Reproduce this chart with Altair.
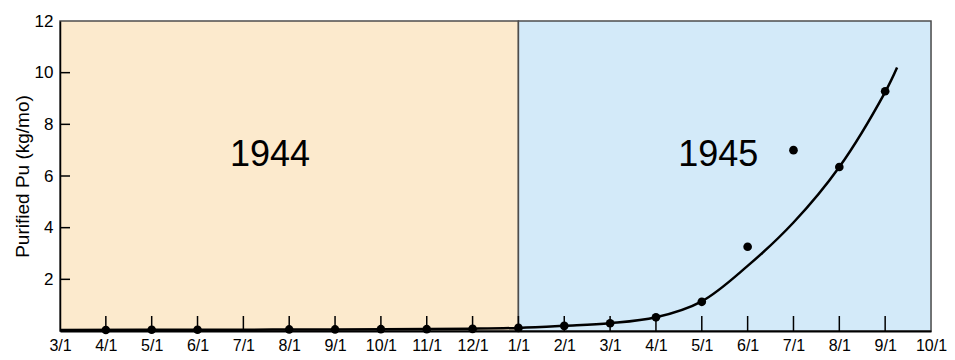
import altair as alt
import pandas as pd

FONT = "Liberation Sans"

# x positions are month indices counted from 3/1/1944
month_labels = ["3/1", "4/1", "5/1", "6/1", "7/1", "8/1", "9/1", "10/1", "11/1", "12/1",
                "1/1", "2/1", "3/1", "4/1", "5/1", "6/1", "7/1", "8/1", "9/1", "10/1"]

# observed monthly production points
point_month = [1, 2, 3, 5, 6, 7, 8, 9, 10, 11, 12, 13, 14, 15, 16, 17, 18]
point_value = [0.04, 0.05, 0.05, 0.06, 0.06, 0.07, 0.07, 0.08,
               0.12, 0.20, 0.30, 0.53, 1.13, 3.26, 7.00, 6.35, 9.28]

# fitted trend curve
curve_month = [0, 3, 6, 9, 10, 11, 12, 13, 14, 15, 16, 17, 18, 18.26]
curve_value = [0.04, 0.05, 0.06, 0.09, 0.12, 0.20, 0.30, 0.53, 1.15, 2.52, 4.20, 6.35, 9.25, 10.2]

# year bands
region_year = ["1944", "1945"]
region_start = [0, 10]
region_end = [10, 19]
region_color = ["#FCEACD", "#D3EAF9"]
label_month = [4.58, 14.36]
label_value = [6.83, 6.83]

y_min, y_max = 0, 12
xtick_months = list(range(1, 19))
ytick_values = [2, 4, 6, 8, 10]
ylabel_values = [2, 4, 6, 8, 10, 12]

points_df = pd.DataFrame({"m": point_month, "v": point_value})
curve_df = pd.DataFrame({"m": curve_month, "v": curve_value})
region_df = pd.DataFrame({"year": region_year, "start": region_start, "end": region_end,
                          "lo": [y_min] * 2, "hi": [y_max] * 2,
                          "lx": label_month, "ly": label_value})
xtick_df = pd.DataFrame({"m": xtick_months, "base": [y_min] * len(xtick_months)})
ytick_df = pd.DataFrame({"v": ytick_values, "base": [0] * len(ytick_values)})

x_scale = alt.Scale(domain=[0, 19], nice=False, zero=False)
y_scale = alt.Scale(domain=[y_min, y_max], nice=False)

label_expr = "[" + ",".join(f"'{m}'" for m in month_labels) + "][datum.value]"

x_axis = alt.Axis(values=list(range(20)), labelExpr=label_expr, title=None, ticks=False, tickSize=0,
                  grid=False, labelFontSize=16, labelColor="black", labelPadding=6,
                  domainColor="black", domainWidth=2, labelFlush=False, zindex=1, labelFont=FONT)
y_axis = alt.Axis(values=ylabel_values, title="Purified Pu (kg/mo)", ticks=False, tickSize=0,
                  grid=False, labelFontSize=17, labelColor="black", labelPadding=7,
                  domainColor="black", domainWidth=1.5, zindex=1, labelFont=FONT,
                  titleFont=FONT, titleFontSize=19, titleFontWeight="normal", titleColor="black",
                  titlePadding=2)


def X(field):
    return alt.X(field, scale=x_scale, axis=x_axis)


def Y(field):
    return alt.Y(field, scale=y_scale, axis=y_axis)


regions = alt.Chart(region_df).mark_rect(stroke="#4d4d4d", strokeWidth=1.5).encode(
    x=X("start:Q"),
    x2="end:Q",
    y=Y("lo:Q"),
    y2="hi:Q",
    color=alt.Color("year:N", scale=alt.Scale(domain=region_year, range=region_color), legend=None),
)

xticks = alt.Chart(xtick_df).mark_tick(
    orient="vertical", size=30, thickness=1.5, color="black", clip=True, opacity=1
).encode(x=X("m:Q"), y=Y("base:Q"))

yticks = alt.Chart(ytick_df).mark_tick(
    orient="horizontal", size=20, thickness=1.5, color="black", clip=True, opacity=1
).encode(y=Y("v:Q"), x=X("base:Q"))

labels = alt.Chart(region_df).mark_text(fontSize=36, font=FONT, color="black").encode(
    x=X("lx:Q"),
    y=Y("ly:Q"),
    text="year:N",
)

curve = alt.Chart(curve_df).mark_line(interpolate="catmull-rom", color="black", strokeWidth=2.5).encode(
    x=X("m:Q"),
    y=Y("v:Q"),
)

dots = alt.Chart(points_df).mark_circle(size=75, color="black", opacity=1).encode(
    x=X("m:Q"),
    y=Y("v:Q"),
)

chart = alt.layer(regions, xticks, yticks, labels, curve, dots).properties(
    width=871,
    height=310,
    autosize=alt.AutoSizeParams(type="none"),
    padding={"left": 52, "top": 13, "right": 16, "bottom": 26},
).configure_view(stroke=None).configure(font=FONT)

chart.save("out.html", embed_options={"renderer": "svg", "actions": False})
